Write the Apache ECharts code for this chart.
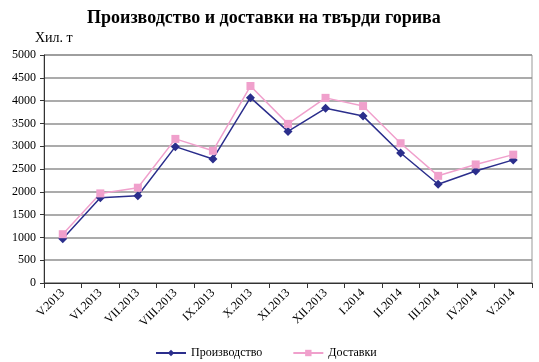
<!DOCTYPE html>
<html><head><meta charset="utf-8">
<script src="https://cdn.jsdelivr.net/npm/echarts@6/dist/echarts.min.js"></script>
<style>html,body{margin:0;padding:0;background:#fff}#c{width:539px;height:362px}</style>
</head><body><div id="c"></div>
<script>
const categories = ['V.2013','VI.2013','VII.2013','VIII.2013','IX.2013','X.2013','XI.2013','XII.2013','I.2014','II.2014','III.2014','IV.2014','V.2014'];
const production = [970, 1870, 1915, 2990, 2720, 4065, 3325, 3830, 3660, 2850, 2165, 2455, 2700];
const deliveries = [1070, 1965, 2090, 3160, 2900, 4320, 3490, 4060, 3880, 3065, 2350, 2600, 2815];
const yTicks = [0, 500, 1000, 1500, 2000, 2500, 3000, 3500, 4000, 4500, 5000];
const seriesNames = ['Производство', 'Доставки'];

const serif = '"Liberation Serif", "DejaVu Serif", serif';
const chart = echarts.init(document.getElementById('c'));
chart.setOption({
  animation: false,
  title: [
    {text: 'Производство и доставки на твърди горива', left: 82, top: 4,
     textStyle: {fontFamily: serif, fontSize: 18, fontWeight: 'bold', color: '#000'}},
    {text: 'Хил. т', left: 30, top: 26,
     textStyle: {fontFamily: serif, fontSize: 14, fontWeight: 'normal', color: '#000'}}
  ],
  grid: {left: 44, right: 7, top: 55, bottom: 79, show: true, borderColor: '#999', borderWidth: 1, backgroundColor: 'transparent'},
  legend: {
    top: 342, left: 150, itemGap: 30, itemWidth: 30, itemHeight: 8,
    textStyle: {fontFamily: serif, fontSize: 12, color: '#000'},
    data: seriesNames
  },
  xAxis: {
    type: 'category', data: categories, boundaryGap: true,
    axisLine: {lineStyle: {color: '#333', width: 1}},
    axisTick: {show: true, length: 5, lineStyle: {color: '#333'}},
    axisLabel: {rotate: 45, fontFamily: serif, fontSize: 12, color: '#000', margin: 8, interval: 0}
  },
  yAxis: {
    type: 'value', min: yTicks[0], max: yTicks[yTicks.length-1], interval: 500,
    axisLine: {show: true, lineStyle: {color: '#333'}},
    axisTick: {show: true, length: 4, lineStyle: {color: '#333'}},
    axisLabel: {fontFamily: serif, fontSize: 12, color: '#000', margin: 8, formatter: v => String(v)},
    splitLine: {lineStyle: {color: '#8f8f8f', width: 1.5}}
  },
  series: [
    {name: seriesNames[0], type: 'line', data: production, symbol: 'diamond', symbolSize: 9,
     itemStyle: {color: '#2b2e8c'}, lineStyle: {color: '#2b2e8c', width: 1.5}},
    {name: seriesNames[1], type: 'line', data: deliveries, symbol: 'rect', symbolSize: 8,
     itemStyle: {color: '#f0a0cc'}, lineStyle: {color: '#f0a0cc', width: 1.5}}
  ]
});
</script></body></html>
